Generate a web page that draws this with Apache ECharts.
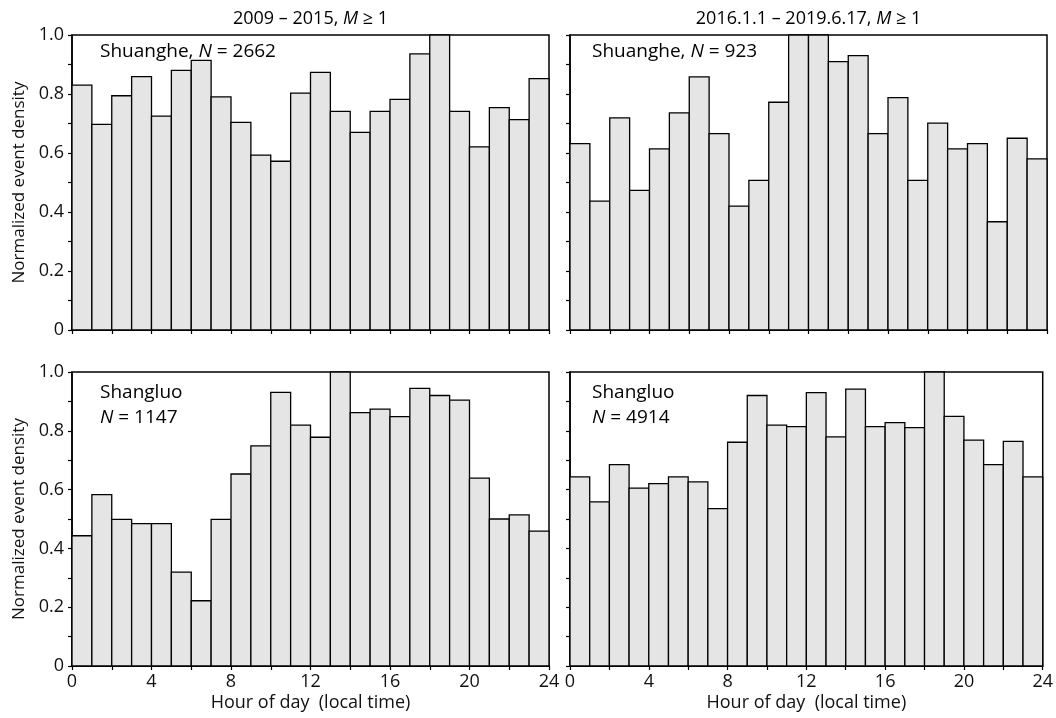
<!DOCTYPE html>
<html>
<head>
<meta charset="utf-8">
<script src="https://cdn.jsdelivr.net/npm/echarts@6/dist/echarts.min.js"></script>
<style>
html,body{margin:0;padding:0;background:#fff;}
#chart{width:1056px;height:718px;}
</style>
</head>
<body>
<div id="chart"></div>
<script>
// ---- data ----
const hourBins = [0,1,2,3,4,5,6,7,8,9,10,11,12,13,14,15,16,17,18,19,20,21,22,23];
const shuangheEarly = [0.830,0.697,0.794,0.859,0.725,0.880,0.914,0.790,0.704,0.593,0.572,0.803,0.873,0.741,0.670,0.741,0.782,0.936,1.000,0.741,0.621,0.754,0.713,0.852];
const shuangheLate  = [0.632,0.437,0.719,0.473,0.614,0.736,0.858,0.666,0.420,0.507,0.772,1.000,1.000,0.910,0.930,0.666,0.788,0.507,0.701,0.614,0.632,0.367,0.650,0.580];
const shangluoEarly = [0.443,0.583,0.499,0.484,0.484,0.319,0.222,0.499,0.653,0.749,0.931,0.819,0.778,1.000,0.862,0.874,0.848,0.944,0.920,0.904,0.639,0.500,0.514,0.459];
const shangluoLate  = [0.643,0.558,0.685,0.605,0.620,0.643,0.626,0.535,0.761,0.920,0.819,0.814,0.930,0.779,0.942,0.814,0.828,0.811,1.000,0.849,0.768,0.685,0.764,0.643];
const xTickLabels = ['0','4','8','12','16','20','24'];
const yTickLabels = ['0','0.2','0.4','0.6','0.8','1.0'];
const columnTitles = ['2009 – 2015, ', '2016.1.1 – 2019.6.17, '];
const panelNotes = [
  ['Shuanghe, ', '2662'],
  ['Shuanghe, ', '923'],
  ['Shangluo', '1147'],
  ['Shangluo', '4914']
];
const xName = 'Hour of day  (local time)';
const yName = 'Normalized event density';

// ---- chart ----
const FONT = '"Open Sans", "Noto Sans", sans-serif';
const INK = '#111';
const chart = echarts.init(document.getElementById('chart'));

const grids = [
  {left: 72,  top: 35,  width: 477, height: 295},
  {left: 570, top: 35,  width: 477, height: 295},
  {left: 72,  top: 372, width: 477, height: 294},
  {left: 570, top: 372, width: 477, height: 294}
];
const seriesValues = [shuangheEarly, shuangheLate, shangluoEarly, shangluoLate];

function renderItem(params, api) {
  const h = api.value(0), v = api.value(1);
  const p0 = api.coord([h, 0]);
  const p1 = api.coord([h + 1, v]);
  return {
    type: 'rect',
    shape: {x: p0[0], y: p1[1], width: p1[0] - p0[0], height: p0[1] - p1[1]},
    style: {fill: '#e5e5e5', stroke: '#000', lineWidth: 1.3}
  };
}

const xAxes = grids.map((g, i) => ({
  type: 'value', gridIndex: i, min: 0, max: 24, interval: 2,
  axisLine: {show: true, onZero: false, lineStyle: {color: '#000', width: 1.5}},
  axisTick: {show: true, inside: false, length: 4, lineStyle: {color: '#000', width: 1.2}},
  splitLine: {show: false},
  axisLabel: {
    show: i >= 2, margin: 7, fontFamily: FONT, fontSize: 18, color: INK,
    showMinLabel: true, showMaxLabel: true,
    formatter: v => { const s = String(Math.round(v)); return xTickLabels.indexOf(s) >= 0 ? s : ''; }
  },
  name: i >= 2 ? xName : '', nameLocation: 'middle', nameGap: 28,
  nameTextStyle: {fontFamily: FONT, fontSize: 18, color: INK}
}));

const yAxes = grids.map((g, i) => ({
  type: 'value', gridIndex: i, min: 0, max: 1, interval: 0.1,
  axisLine: {show: true, lineStyle: {color: '#000', width: 1.5}},
  axisTick: {show: true, inside: false, length: 4, lineStyle: {color: '#000', width: 1.2}},
  splitLine: {show: false},
  axisLabel: {
    show: i % 2 === 0, margin: 8, fontFamily: FONT, fontSize: 18, color: INK,
    formatter: v => {
      const r = Math.round(v * 10);
      if (r % 2 !== 0) return '';
      return yTickLabels[r / 2];
    }
  },
  name: i % 2 === 0 ? yName : '', nameLocation: 'middle', nameGap: 44,
  nameTextStyle: {fontFamily: FONT, fontSize: 17, color: INK}
}));

const series = seriesValues.map((vals, i) => ({
  type: 'custom', xAxisIndex: i, yAxisIndex: i,
  renderItem: renderItem,
  data: hourBins.map((h, k) => [h, vals[k]]),
  clip: false,
  z: 2
}));

function rich(size, lh) {
  return {
    t: {fontFamily: FONT, fontSize: size, color: INK, lineHeight: lh},
    it: {fontFamily: FONT, fontSize: size, color: INK, fontStyle: 'italic', lineHeight: lh}
  };
}

const graphics = [];
// column titles
columnTitles.forEach((t, i) => {
  const g = grids[i];
  graphics.push({
    type: 'text', x: g.left + g.width / 2, y: 19, z: 10,
    style: {
      text: '{t|' + t + '}{it|M}{t| ≥ 1}', rich: rich(18, 22),
      align: 'center', verticalAlign: 'middle'
    }
  });
});
// panel notes
panelNotes.forEach((n, i) => {
  const g = grids[i];
  const txt = i < 2
    ? '{t|' + n[0] + '}{it|N}{t| = ' + n[1] + '}'
    : '{t|' + n[0] + '}\n{it|N}{t| = ' + n[1] + '}';
  graphics.push({
    type: 'text', x: g.left + (i % 2 === 0 ? 28 : 22), y: g.top + (i < 2 ? 17 : 33), z: 10,
    style: {
      text: txt, rich: rich(19, 25),
      align: 'left', verticalAlign: 'middle'
    }
  });
});

chart.setOption({
  animation: false,
  backgroundColor: '#fff',
  grid: grids.map(g => Object.assign({show: true, borderColor: '#000', borderWidth: 1.5, backgroundColor: 'transparent'}, g)),
  xAxis: xAxes,
  yAxis: yAxes,
  series: series,
  graphic: graphics
});
</script>
</body>
</html>
